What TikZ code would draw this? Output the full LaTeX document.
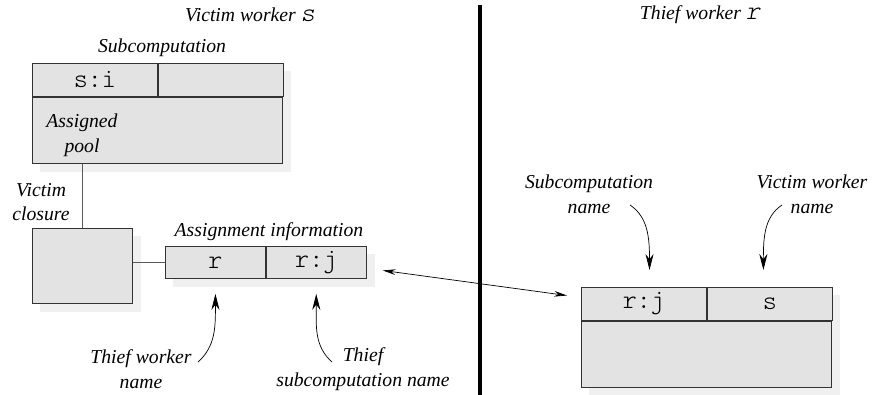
\documentclass[tikz,border=0pt]{standalone}
\usepackage{fontspec}
\setmainfont{Liberation Serif}
\setmonofont{Latin Modern Mono Light}
\usetikzlibrary{arrows.meta,positioning,calc,backgrounds}

\begin{document}
\begin{tikzpicture}[
  cell/.style={draw=black!80,fill=gray!22,rectangle,inner sep=0pt,line width=0.6pt,
    font=\fontsize{19}{21}\selectfont\ttfamily},
  halfcell/.style={cell,minimum width=3.125cm,minimum height=0.825cm,anchor=north west},
  bodycell/.style={cell,minimum width=6.25cm,minimum height=1.65cm,anchor=north west},
  infocell/.style={cell,minimum width=2.5cm,minimum height=0.8cm,anchor=north west},
  shadowbox/.style={fill=gray!12},
  lbl/.style={font=\fontsize{14}{17.5}\selectfont\itshape,align=center,inner sep=1pt},
  wire/.style={draw=black!65,line width=0.8pt},
  pointer/.style={-{Stealth[length=0.4cm,width=0.2cm]},line width=0.5pt},
  both/.style={{Stealth[length=0.32cm,width=0.14cm]}-{Stealth[length=0.32cm,width=0.14cm]},line width=0.5pt}
]
\useasboundingbox (0,0) rectangle (21.8,-9.875);

% headings and the split between the two workers
\node[lbl] (vtitle) at (6.25,-0.375) {Victim worker \texttt{\fontsize{19}{21}\selectfont s}};
\node[lbl] (ttitle) at (17.5,-0.375) {Thief worker \texttt{\fontsize{19}{21}\selectfont r}};
\draw[line width=2.8pt] (12,-0.125) -- (12,-9.875);

% victim side: subcomputation record
\node[halfcell] (si) at (0.8,-1.575) {s:i};
\node[halfcell] (sx) at (si.north east) {};
\node[bodycell] (pool) at (si.south west) {};

% victim closure and its assignment info
\node[cell,minimum width=2.5cm,minimum height=1.875cm,anchor=north west] (clo) at (0.8,-5.7) {};
\node[infocell] (ar) at (4.125,-6.15) {r};
\node[infocell] (arj) at (ar.north east) {r:j};

% thief side: new subcomputation
\node[halfcell] (rj) at (14.525,-7.175) {r:j};
\node[halfcell] (rs) at (rj.north east) {s};
\node[bodycell] (rbody) at (rj.south west) {};

% shadows
\begin{scope}[on background layer]
  \fill[shadowbox] ([shift={(0.2,-0.2)}]si.north west) rectangle ([shift={(0.2,-0.2)}]pool.south east);
  \fill[shadowbox] ([shift={(0.2,-0.2)}]clo.north west) rectangle ([shift={(0.2,-0.2)}]clo.south east);
  \fill[shadowbox] ([shift={(0.2,-0.2)}]ar.north west) rectangle ([shift={(0.2,-0.2)}]arj.south east);
  \fill[shadowbox] ([shift={(0.2,-0.2)}]rj.north west) rectangle ([shift={(0.2,-0.2)}]rbody.south east);
\end{scope}

% labels
\node[lbl] (subc) at (4.05,-1.2) {Subcomputation};
\node[lbl] (apool) at (2.05,-3.375) {Assigned\\pool};
\node[lbl] (vclo) at (1.025,-5.05) {Victim\\closure};
\node[lbl] (ainfo) at (6.725,-5.8) {Assignment information};
\node[lbl] (twn) at (3.525,-9.225) {Thief worker\\name};
\node[lbl] (tsn) at (9.075,-9.225) {Thief\\subcomputation name};
\node[lbl] (scn) at (14.725,-4.85) {Subcomputation\\name};
\node[lbl] (vwn) at (20.3,-4.85) {Victim worker\\name};

% tails of the pointers
\coordinate (twn-t) at (4.95,-9.05);
\coordinate (tsn-t) at (8.3,-9.05);
\coordinate (scn-t) at (15.75,-5.125);
\coordinate (vwn-t) at (19.55,-5.125);

% the links
\draw[wire] (pool.south -| clo.north) -- (clo.north);
\draw[wire] (clo.east |- ar.west) -- (ar.west);
\draw[both] ([xshift=0.4cm,yshift=-0.2cm]arj.east) -- ([xshift=-0.35cm,yshift=0.21cm]rj.west);

\draw[pointer] (twn-t) .. controls +(0.45,0.4) and +(0,-0.8) .. ([yshift=-0.375cm]ar.south);
\draw[pointer] (tsn-t) .. controls +(-0.45,0.4) and +(0,-0.8) .. ([yshift=-0.375cm]arj.south);
\draw[pointer] (scn-t) .. controls +(0.45,-0.3) and +(0,0.8) .. ([xshift=0.14cm,yshift=0.425cm]rj.north);
\draw[pointer] (vwn-t) .. controls +(-0.45,-0.3) and +(0,0.8) .. ([xshift=-0.16cm,yshift=0.425cm]rs.north);

\end{tikzpicture}
\end{document}
